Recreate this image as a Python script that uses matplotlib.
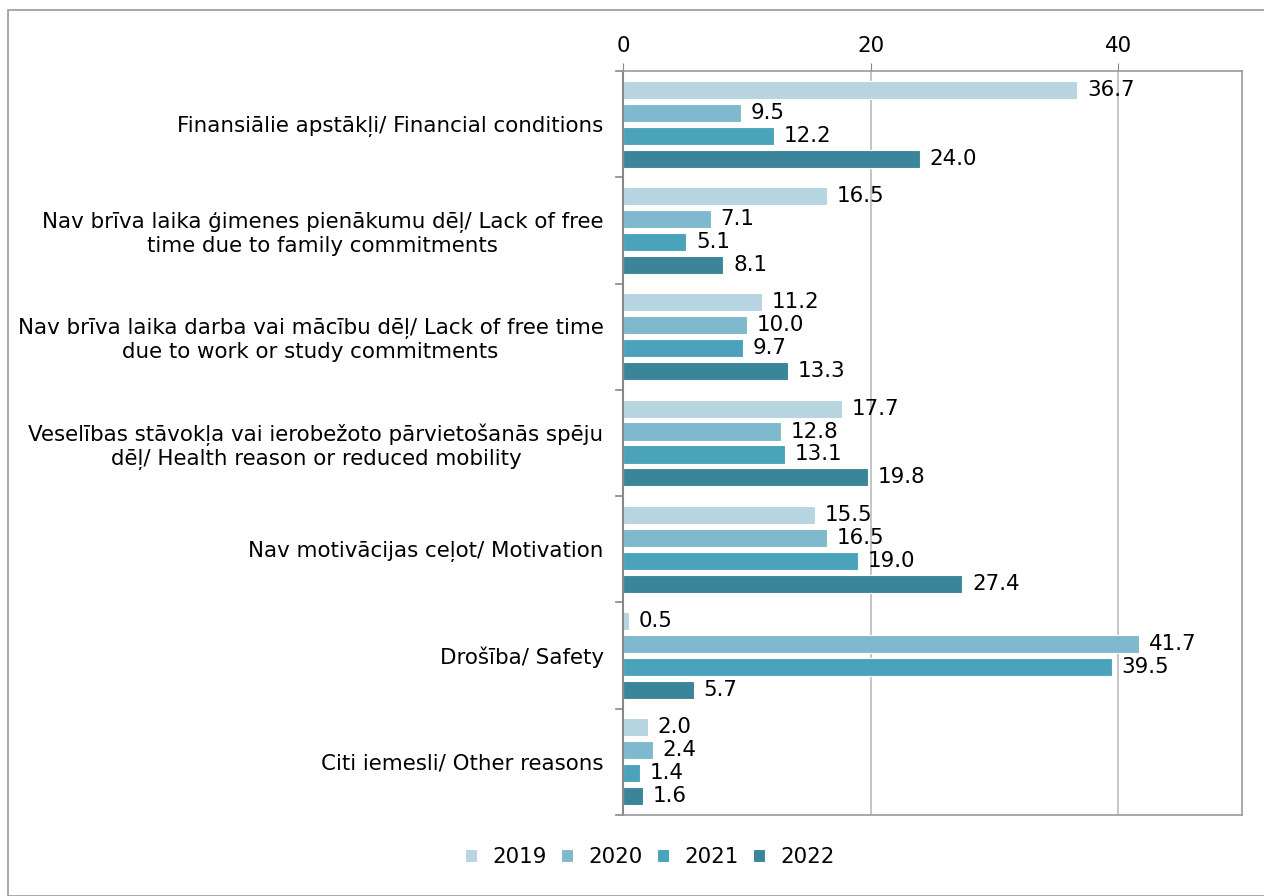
import matplotlib
matplotlib.use("Agg")
import matplotlib.pyplot as plt
import numpy as np
from matplotlib.patches import Rectangle

categories = [
    "Finansiālie apstākļi/ Financial conditions",
    "Nav brīva laika ģimenes pienākumu dēļ/ Lack of free\ntime due to family commitments",
    "Nav brīva laika darba vai mācību dēļ/ Lack of free time\ndue to work or study commitments",
    "Veselības stāvokļa vai ierobežoto pārvietošanās spēju\ndēļ/ Health reason or reduced mobility",
    "Nav motivācijas ceļot/ Motivation",
    "Drošība/ Safety",
    "Citi iemesli/ Other reasons",
]
years = ["2019", "2020", "2021", "2022"]
v2019 = [36.7, 16.5, 11.2, 17.7, 15.5, 0.5, 2.0]
v2020 = [9.5, 7.1, 10.0, 12.8, 16.5, 41.7, 2.4]
v2021 = [12.2, 5.1, 9.7, 13.1, 19.0, 39.5, 1.4]
v2022 = [24.0, 8.1, 13.3, 19.8, 27.4, 5.7, 1.6]
series = [v2019, v2020, v2021, v2022]
colors = ["#B7D5E0", "#7FB9CE", "#4AA3BB", "#3A8599"]
xticks = [0, 20, 40]

FS = 15.4
plt.rcParams['font.family'] = ['DejaVu Sans']
fig = plt.figure(figsize=(12.64, 8.96), dpi=100)
W, H = 1264, 896
ax = fig.add_axes([623 / W, 1 - 815 / H, (1242 - 623) / W, (815 - 71) / H])

n = len(categories)
step = 0.216
height = 0.17
for j, (vals, c, yr) in enumerate(zip(series, colors, years)):
    ys = np.arange(n) + (j - 1.5) * step
    ax.barh(ys, vals, height=height, color=c, edgecolor="white",
            linewidth=0.8, label=yr)
    for y, v in zip(ys, vals):
        ax.annotate(f"{v:.1f}", (v, y), xytext=(7, 0), textcoords="offset points",
                    va="center", ha="left", fontsize=FS, color="#000000")

ax.set_ylim(n - 0.5, -0.5)
ax.set_xlim(0, 50)
ax.xaxis.tick_top()
ax.set_xticks(xticks)
ax.tick_params(axis="x", labelsize=FS, length=6, color="#888888", pad=5,
               labelcolor="#000000")
ax.set_yticks(np.arange(n))
ax.set_yticklabels(categories, fontsize=FS, multialignment="center", color="#000000")
ax.tick_params(axis="y", length=0, pad=14)
for b in np.arange(n + 1) - 0.5:
    ax.plot([-0.012, 0], [b, b], transform=ax.get_yaxis_transform(),
            color="#888888", lw=1.2, clip_on=False)
ax.grid(axis="x", color="#BBBBBB", lw=1.2)
ax.set_axisbelow(True)
for s in ["top", "right", "bottom"]:
    ax.spines[s].set_color("#999999")
    ax.spines[s].set_linewidth(1.2)
ax.spines["left"].set_color("#888888")
ax.spines["left"].set_linewidth(1.5)

fig.legend(loc="center", bbox_to_anchor=(650 / W, 1 - 857 / H), ncol=4,
           frameon=False, fontsize=FS, handlelength=0.55, handleheight=0.55,
           handletextpad=0.75, columnspacing=0.65)

fig.patches.append(Rectangle((8 / W, 0), 1.2, 1 - 10 / H, transform=fig.transFigure,
                             fill=False, edgecolor="#999999", lw=1.2))
fig.savefig("out.png", dpi=100)
